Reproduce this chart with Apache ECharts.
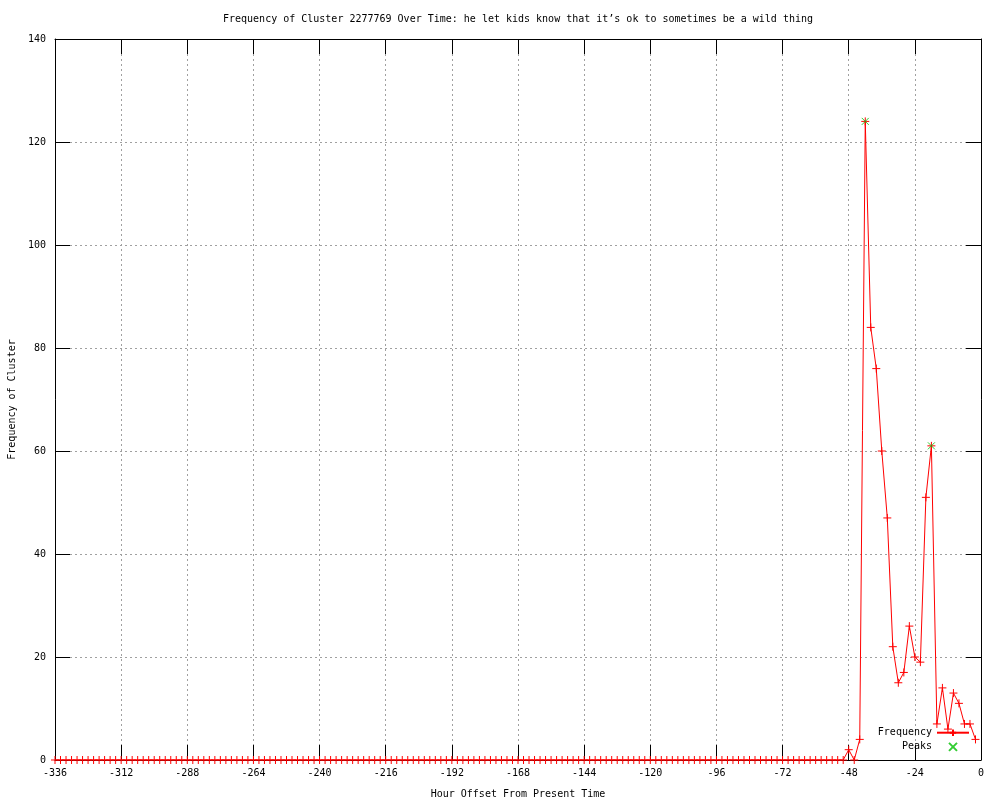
<!DOCTYPE html>
<html>
<head>
<meta charset="utf-8">
<script src="https://cdn.jsdelivr.net/npm/echarts@6/dist/echarts.min.js"></script>
<style>html,body{margin:0;padding:0;background:#fff}#c{width:1000px;height:800px}</style>
</head>
<body>
<div id="c"></div>
<script>
const titleText = "Frequency of Cluster 2277769 Over Time: he let kids know that it\u2019s ok to sometimes be a wild thing";
const xAxisName = "Hour Offset From Present Time";
const yAxisName = "Frequency of Cluster";
const hourStart = -336;
const hourStep = 2;
const frequency = [
  0,0,0,0,0,0,0,0,0,0,0,0,0,0,0,0,0,0,0,0,0,0,0,0,
  0,0,0,0,0,0,0,0,0,0,0,0,0,0,0,0,0,0,0,0,0,0,0,0,
  0,0,0,0,0,0,0,0,0,0,0,0,0,0,0,0,0,0,0,0,0,0,0,0,
  0,0,0,0,0,0,0,0,0,0,0,0,0,0,0,0,0,0,0,0,0,0,0,0,
  0,0,0,0,0,0,0,0,0,0,0,0,0,0,0,0,0,0,0,0,0,0,0,0,
  0,0,0,0,0,0,0,0,0,0,0,0,0,0,0,0,0,0,0,0,0,0,0,0,
  2,0,4,124,84,76,60,47,22,15,17,26,20,19,51,61,7,14,6,13,11,7,7,4
];
const peakHours = [-42, -18];
const peakValues = [124, 61];

const freqData = frequency.map((v, i) => [hourStart + i * hourStep, v]);
const peakData = peakHours.map((h, i) => [h, peakValues[i]]);

const FONT = "DejaVu Sans Mono";
const plusSym = 'path://M5,0L5,10M0,5L10,5';
const crossSym = 'path://M0,0L10,10M10,0L0,10';

const baseX = {
  type: 'value', min: -336, max: 0, interval: 24,
  axisLine: {show: true, onZero: false, lineStyle: {color: '#000', width: 1}},
  axisTick: {show: true, inside: true, length: 15, lineStyle: {color: '#000'}},
  splitLine: {show: false}
};
const baseY = {
  type: 'value', min: 0, max: 140, interval: 20,
  axisLine: {show: true, onZero: false, lineStyle: {color: '#000', width: 1}},
  axisTick: {show: true, inside: true, length: 15, lineStyle: {color: '#000'}},
  splitLine: {show: false}
};

const chart = echarts.init(document.getElementById('c'), null, {renderer: 'canvas'});
chart.setOption({
  animation: false,
  backgroundColor: '#fff',
  textStyle: {fontFamily: FONT},
  title: {
    text: titleText, left: 223, top: 14, padding: 0,
    textStyle: {fontFamily: FONT, fontSize: 10, fontWeight: 'normal', color: '#000'}
  },
  grid: {left: 55, right: 19, top: 39, bottom: 40, containLabel: false, outerBoundsMode: 'none'},
  legend: {
    orient: 'vertical', align: 'right', right: 30, top: 727, padding: 0,
    itemWidth: 32, itemHeight: 8, itemGap: 2,
    textStyle: {fontFamily: FONT, fontSize: 10, color: '#000'},
    data: ['Frequency', 'Peaks']
  },
  xAxis: [
    Object.assign({}, baseX, {
      position: 'bottom',
      name: xAxisName, nameLocation: 'middle', nameGap: 29,
      nameTextStyle: {fontFamily: FONT, fontSize: 10, color: '#000'},
      axisLabel: {fontFamily: FONT, fontSize: 10, color: '#000', margin: 8},
      splitLine: {show: true, lineStyle: {color: '#a0a0a0', type: [2, 3], width: 1}}
    }),
    Object.assign({}, baseX, {position: 'top', axisLabel: {show: false}})
  ],
  yAxis: [
    Object.assign({}, baseY, {
      position: 'left',
      name: yAxisName, nameLocation: 'middle', nameGap: 36, nameRotate: 90,
      nameTextStyle: {fontFamily: FONT, fontSize: 10, color: '#000'},
      axisLabel: {fontFamily: FONT, fontSize: 10, color: '#000', margin: 9},
      splitLine: {show: true, lineStyle: {color: '#a0a0a0', type: [2, 3], width: 1}}
    }),
    Object.assign({}, baseY, {position: 'right', axisLabel: {show: false}})
  ],
  series: [
    {
      name: 'Frequency', type: 'line', data: freqData,
      xAxisIndex: 0, yAxisIndex: 0,
      symbol: plusSym, symbolSize: 8, showSymbol: true, showAllSymbol: true,
      lineStyle: {color: '#ff0000', width: 1},
      itemStyle: {color: 'none', borderColor: '#ff0000', borderWidth: 1},
      emphasis: {disabled: true}, z: 3
    },
    {
      name: 'Peaks', type: 'scatter', data: peakData,
      xAxisIndex: 0, yAxisIndex: 0,
      symbol: crossSym, symbolSize: 7, symbolKeepAspect: true,
      itemStyle: {color: 'none', borderColor: '#00c000', borderWidth: 1},
      emphasis: {disabled: true}, z: 4
    }
  ]
});
</script>
</body>
</html>
